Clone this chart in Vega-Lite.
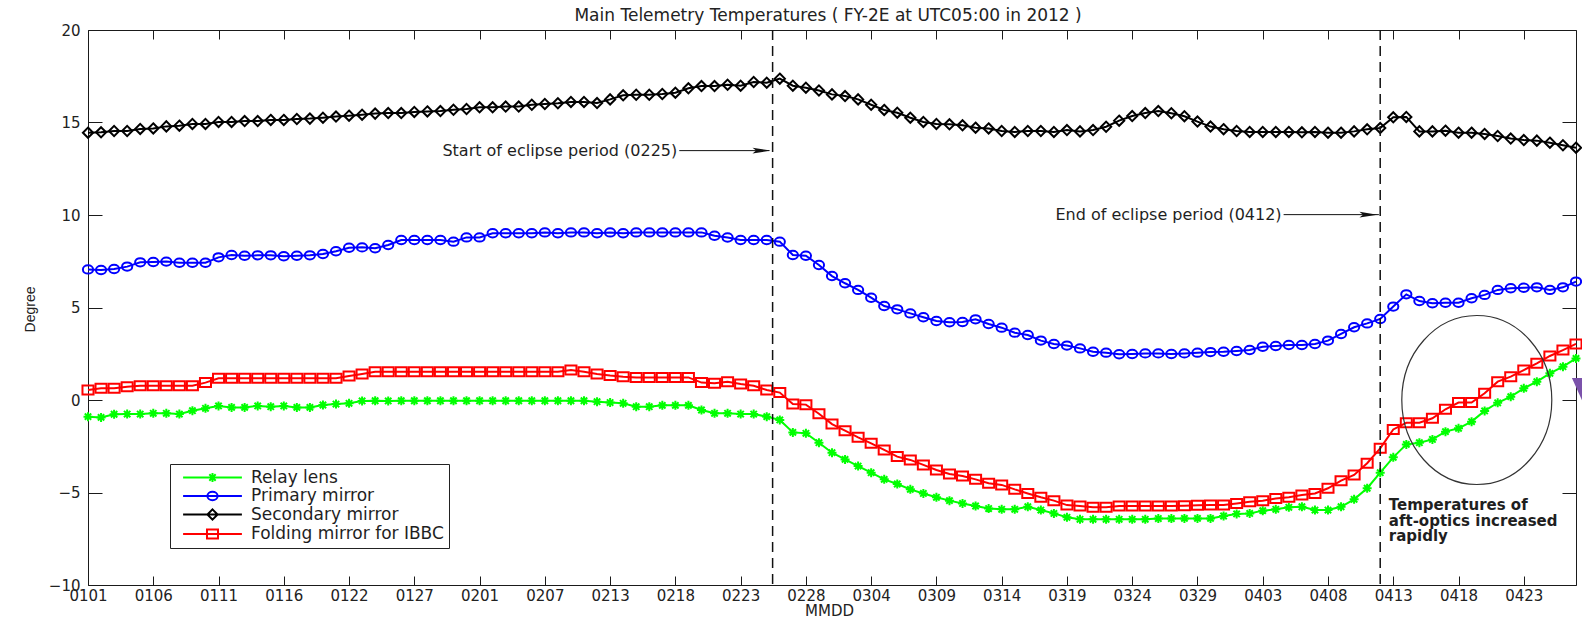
{
  "$schema": "https://vega.github.io/schema/vega-lite/v6.json",
  "width": 1488,
  "height": 555,
  "autosize": {"type": "none"},
  "padding": {"left": 88, "top": 30, "right": 6, "bottom": 34},
  "background": "white",
  "data": {"values": [{}]},
  "config": {
    "view": {"stroke": "#1a1a1a", "strokeWidth": 1},
    "axis": {"labelFont": "DejaVu Sans", "labelFontSize": 15, "labelColor": "#222", "tickColor": "#1a1a1a", "tickWidth": 1, "domain": false, "grid": false, "titleFont": "DejaVu Sans", "titleFontWeight": "normal", "titleColor": "#222", "labelOverlap": false, "labelFlush": false},
    "text": {"font": "DejaVu Sans", "color": "#1f1f1f"}
  },
  "datasets": {
    "temps": [
      {"i":0,"Relay lens":-0.90,"Primary mirror":7.06,"Secondary mirror":14.45,"Folding mirror for IBBC":0.54},
      {"i":1,"Relay lens":-0.94,"Primary mirror":7.03,"Secondary mirror":14.47,"Folding mirror for IBBC":0.63},
      {"i":2,"Relay lens":-0.77,"Primary mirror":7.08,"Secondary mirror":14.54,"Folding mirror for IBBC":0.63},
      {"i":3,"Relay lens":-0.76,"Primary mirror":7.21,"Secondary mirror":14.54,"Folding mirror for IBBC":0.72},
      {"i":4,"Relay lens":-0.76,"Primary mirror":7.44,"Secondary mirror":14.65,"Folding mirror for IBBC":0.77},
      {"i":5,"Relay lens":-0.72,"Primary mirror":7.46,"Secondary mirror":14.68,"Folding mirror for IBBC":0.77},
      {"i":6,"Relay lens":-0.72,"Primary mirror":7.48,"Secondary mirror":14.79,"Folding mirror for IBBC":0.77},
      {"i":7,"Relay lens":-0.76,"Primary mirror":7.42,"Secondary mirror":14.83,"Folding mirror for IBBC":0.77},
      {"i":8,"Relay lens":-0.58,"Primary mirror":7.42,"Secondary mirror":14.92,"Folding mirror for IBBC":0.77},
      {"i":9,"Relay lens":-0.45,"Primary mirror":7.42,"Secondary mirror":14.92,"Folding mirror for IBBC":0.94},
      {"i":10,"Relay lens":-0.32,"Primary mirror":7.71,"Secondary mirror":15.03,"Folding mirror for IBBC":1.17},
      {"i":11,"Relay lens":-0.40,"Primary mirror":7.84,"Secondary mirror":15.03,"Folding mirror for IBBC":1.17},
      {"i":12,"Relay lens":-0.40,"Primary mirror":7.80,"Secondary mirror":15.08,"Folding mirror for IBBC":1.17},
      {"i":13,"Relay lens":-0.32,"Primary mirror":7.82,"Secondary mirror":15.08,"Folding mirror for IBBC":1.17},
      {"i":14,"Relay lens":-0.36,"Primary mirror":7.82,"Secondary mirror":15.14,"Folding mirror for IBBC":1.17},
      {"i":15,"Relay lens":-0.32,"Primary mirror":7.77,"Secondary mirror":15.14,"Folding mirror for IBBC":1.17},
      {"i":16,"Relay lens":-0.40,"Primary mirror":7.80,"Secondary mirror":15.19,"Folding mirror for IBBC":1.17},
      {"i":17,"Relay lens":-0.40,"Primary mirror":7.82,"Secondary mirror":15.21,"Folding mirror for IBBC":1.17},
      {"i":18,"Relay lens":-0.27,"Primary mirror":7.89,"Secondary mirror":15.26,"Folding mirror for IBBC":1.17},
      {"i":19,"Relay lens":-0.22,"Primary mirror":8.04,"Secondary mirror":15.32,"Folding mirror for IBBC":1.17},
      {"i":20,"Relay lens":-0.18,"Primary mirror":8.23,"Secondary mirror":15.37,"Folding mirror for IBBC":1.30},
      {"i":21,"Relay lens":-0.05,"Primary mirror":8.25,"Secondary mirror":15.42,"Folding mirror for IBBC":1.41},
      {"i":22,"Relay lens":-0.04,"Primary mirror":8.20,"Secondary mirror":15.48,"Folding mirror for IBBC":1.53},
      {"i":23,"Relay lens":-0.05,"Primary mirror":8.38,"Secondary mirror":15.51,"Folding mirror for IBBC":1.53},
      {"i":24,"Relay lens":-0.04,"Primary mirror":8.65,"Secondary mirror":15.51,"Folding mirror for IBBC":1.53},
      {"i":25,"Relay lens":-0.04,"Primary mirror":8.65,"Secondary mirror":15.57,"Folding mirror for IBBC":1.53},
      {"i":26,"Relay lens":-0.04,"Primary mirror":8.65,"Secondary mirror":15.60,"Folding mirror for IBBC":1.53},
      {"i":27,"Relay lens":-0.04,"Primary mirror":8.65,"Secondary mirror":15.62,"Folding mirror for IBBC":1.53},
      {"i":28,"Relay lens":-0.04,"Primary mirror":8.56,"Secondary mirror":15.69,"Folding mirror for IBBC":1.53},
      {"i":29,"Relay lens":-0.04,"Primary mirror":8.79,"Secondary mirror":15.73,"Folding mirror for IBBC":1.53},
      {"i":30,"Relay lens":-0.04,"Primary mirror":8.79,"Secondary mirror":15.82,"Folding mirror for IBBC":1.53},
      {"i":31,"Relay lens":-0.04,"Primary mirror":9.01,"Secondary mirror":15.82,"Folding mirror for IBBC":1.53},
      {"i":32,"Relay lens":-0.04,"Primary mirror":9.01,"Secondary mirror":15.86,"Folding mirror for IBBC":1.53},
      {"i":33,"Relay lens":-0.04,"Primary mirror":9.01,"Secondary mirror":15.86,"Folding mirror for IBBC":1.53},
      {"i":34,"Relay lens":-0.04,"Primary mirror":9.01,"Secondary mirror":15.96,"Folding mirror for IBBC":1.53},
      {"i":35,"Relay lens":-0.04,"Primary mirror":9.06,"Secondary mirror":16.00,"Folding mirror for IBBC":1.53},
      {"i":36,"Relay lens":-0.04,"Primary mirror":9.01,"Secondary mirror":16.04,"Folding mirror for IBBC":1.53},
      {"i":37,"Relay lens":-0.04,"Primary mirror":9.06,"Secondary mirror":16.11,"Folding mirror for IBBC":1.62},
      {"i":38,"Relay lens":-0.04,"Primary mirror":9.06,"Secondary mirror":16.11,"Folding mirror for IBBC":1.53},
      {"i":39,"Relay lens":-0.09,"Primary mirror":9.01,"Secondary mirror":16.05,"Folding mirror for IBBC":1.41},
      {"i":40,"Relay lens":-0.14,"Primary mirror":9.06,"Secondary mirror":16.25,"Folding mirror for IBBC":1.32},
      {"i":41,"Relay lens":-0.18,"Primary mirror":9.01,"Secondary mirror":16.47,"Folding mirror for IBBC":1.26},
      {"i":42,"Relay lens":-0.36,"Primary mirror":9.06,"Secondary mirror":16.50,"Folding mirror for IBBC":1.22},
      {"i":43,"Relay lens":-0.36,"Primary mirror":9.06,"Secondary mirror":16.50,"Folding mirror for IBBC":1.22},
      {"i":44,"Relay lens":-0.29,"Primary mirror":9.06,"Secondary mirror":16.54,"Folding mirror for IBBC":1.22},
      {"i":45,"Relay lens":-0.29,"Primary mirror":9.06,"Secondary mirror":16.61,"Folding mirror for IBBC":1.22},
      {"i":46,"Relay lens":-0.29,"Primary mirror":9.06,"Secondary mirror":16.85,"Folding mirror for IBBC":1.22},
      {"i":47,"Relay lens":-0.54,"Primary mirror":9.06,"Secondary mirror":16.97,"Folding mirror for IBBC":0.94},
      {"i":48,"Relay lens":-0.72,"Primary mirror":8.88,"Secondary mirror":16.97,"Folding mirror for IBBC":0.90},
      {"i":49,"Relay lens":-0.72,"Primary mirror":8.78,"Secondary mirror":17.04,"Folding mirror for IBBC":0.99},
      {"i":50,"Relay lens":-0.76,"Primary mirror":8.65,"Secondary mirror":16.99,"Folding mirror for IBBC":0.86},
      {"i":51,"Relay lens":-0.76,"Primary mirror":8.65,"Secondary mirror":17.19,"Folding mirror for IBBC":0.77},
      {"i":52,"Relay lens":-0.90,"Primary mirror":8.65,"Secondary mirror":17.15,"Folding mirror for IBBC":0.54},
      {"i":53,"Relay lens":-1.08,"Primary mirror":8.56,"Secondary mirror":17.37,"Folding mirror for IBBC":0.40},
      {"i":54,"Relay lens":-1.75,"Primary mirror":7.84,"Secondary mirror":16.99,"Folding mirror for IBBC":-0.22},
      {"i":55,"Relay lens":-1.80,"Primary mirror":7.80,"Secondary mirror":16.88,"Folding mirror for IBBC":-0.25},
      {"i":56,"Relay lens":-2.31,"Primary mirror":7.30,"Secondary mirror":16.73,"Folding mirror for IBBC":-0.74},
      {"i":57,"Relay lens":-2.85,"Primary mirror":6.70,"Secondary mirror":16.52,"Folding mirror for IBBC":-1.30},
      {"i":58,"Relay lens":-3.21,"Primary mirror":6.31,"Secondary mirror":16.43,"Folding mirror for IBBC":-1.66},
      {"i":59,"Relay lens":-3.57,"Primary mirror":5.95,"Secondary mirror":16.25,"Folding mirror for IBBC":-2.02},
      {"i":60,"Relay lens":-3.93,"Primary mirror":5.53,"Secondary mirror":15.96,"Folding mirror for IBBC":-2.34},
      {"i":61,"Relay lens":-4.29,"Primary mirror":5.08,"Secondary mirror":15.68,"Folding mirror for IBBC":-2.70},
      {"i":62,"Relay lens":-4.54,"Primary mirror":4.90,"Secondary mirror":15.53,"Folding mirror for IBBC":-3.06},
      {"i":63,"Relay lens":-4.83,"Primary mirror":4.68,"Secondary mirror":15.26,"Folding mirror for IBBC":-3.24},
      {"i":64,"Relay lens":-5.05,"Primary mirror":4.47,"Secondary mirror":15.03,"Folding mirror for IBBC":-3.51},
      {"i":65,"Relay lens":-5.26,"Primary mirror":4.27,"Secondary mirror":14.92,"Folding mirror for IBBC":-3.78},
      {"i":66,"Relay lens":-5.44,"Primary mirror":4.20,"Secondary mirror":14.90,"Folding mirror for IBBC":-4.00},
      {"i":67,"Relay lens":-5.59,"Primary mirror":4.22,"Secondary mirror":14.85,"Folding mirror for IBBC":-4.11},
      {"i":68,"Relay lens":-5.73,"Primary mirror":4.36,"Secondary mirror":14.72,"Folding mirror for IBBC":-4.29},
      {"i":69,"Relay lens":-5.87,"Primary mirror":4.11,"Secondary mirror":14.68,"Folding mirror for IBBC":-4.50},
      {"i":70,"Relay lens":-5.91,"Primary mirror":3.91,"Secondary mirror":14.54,"Folding mirror for IBBC":-4.59},
      {"i":71,"Relay lens":-5.91,"Primary mirror":3.64,"Secondary mirror":14.49,"Folding mirror for IBBC":-4.83},
      {"i":72,"Relay lens":-5.77,"Primary mirror":3.51,"Secondary mirror":14.54,"Folding mirror for IBBC":-5.05},
      {"i":73,"Relay lens":-5.95,"Primary mirror":3.21,"Secondary mirror":14.54,"Folding mirror for IBBC":-5.26},
      {"i":74,"Relay lens":-6.13,"Primary mirror":3.03,"Secondary mirror":14.49,"Folding mirror for IBBC":-5.44},
      {"i":75,"Relay lens":-6.34,"Primary mirror":2.94,"Secondary mirror":14.59,"Folding mirror for IBBC":-5.68},
      {"i":76,"Relay lens":-6.45,"Primary mirror":2.79,"Secondary mirror":14.52,"Folding mirror for IBBC":-5.73},
      {"i":77,"Relay lens":-6.45,"Primary mirror":2.61,"Secondary mirror":14.59,"Folding mirror for IBBC":-5.80},
      {"i":78,"Relay lens":-6.45,"Primary mirror":2.56,"Secondary mirror":14.77,"Folding mirror for IBBC":-5.80},
      {"i":79,"Relay lens":-6.45,"Primary mirror":2.47,"Secondary mirror":15.10,"Folding mirror for IBBC":-5.73},
      {"i":80,"Relay lens":-6.45,"Primary mirror":2.49,"Secondary mirror":15.35,"Folding mirror for IBBC":-5.73},
      {"i":81,"Relay lens":-6.45,"Primary mirror":2.52,"Secondary mirror":15.51,"Folding mirror for IBBC":-5.73},
      {"i":82,"Relay lens":-6.41,"Primary mirror":2.52,"Secondary mirror":15.62,"Folding mirror for IBBC":-5.73},
      {"i":83,"Relay lens":-6.41,"Primary mirror":2.49,"Secondary mirror":15.50,"Folding mirror for IBBC":-5.73},
      {"i":84,"Relay lens":-6.40,"Primary mirror":2.52,"Secondary mirror":15.34,"Folding mirror for IBBC":-5.71},
      {"i":85,"Relay lens":-6.40,"Primary mirror":2.56,"Secondary mirror":15.05,"Folding mirror for IBBC":-5.69},
      {"i":86,"Relay lens":-6.40,"Primary mirror":2.59,"Secondary mirror":14.78,"Folding mirror for IBBC":-5.68},
      {"i":87,"Relay lens":-6.27,"Primary mirror":2.61,"Secondary mirror":14.64,"Folding mirror for IBBC":-5.68},
      {"i":88,"Relay lens":-6.16,"Primary mirror":2.65,"Secondary mirror":14.54,"Folding mirror for IBBC":-5.59},
      {"i":89,"Relay lens":-6.13,"Primary mirror":2.70,"Secondary mirror":14.49,"Folding mirror for IBBC":-5.50},
      {"i":90,"Relay lens":-5.98,"Primary mirror":2.88,"Secondary mirror":14.49,"Folding mirror for IBBC":-5.44},
      {"i":91,"Relay lens":-5.91,"Primary mirror":2.92,"Secondary mirror":14.49,"Folding mirror for IBBC":-5.32},
      {"i":92,"Relay lens":-5.80,"Primary mirror":2.97,"Secondary mirror":14.49,"Folding mirror for IBBC":-5.26},
      {"i":93,"Relay lens":-5.77,"Primary mirror":2.97,"Secondary mirror":14.47,"Folding mirror for IBBC":-5.14},
      {"i":94,"Relay lens":-5.95,"Primary mirror":3.03,"Secondary mirror":14.49,"Folding mirror for IBBC":-5.05},
      {"i":95,"Relay lens":-5.95,"Primary mirror":3.21,"Secondary mirror":14.45,"Folding mirror for IBBC":-4.77},
      {"i":96,"Relay lens":-5.77,"Primary mirror":3.57,"Secondary mirror":14.45,"Folding mirror for IBBC":-4.36},
      {"i":97,"Relay lens":-5.37,"Primary mirror":3.93,"Secondary mirror":14.52,"Folding mirror for IBBC":-4.05},
      {"i":98,"Relay lens":-4.77,"Primary mirror":4.14,"Secondary mirror":14.63,"Folding mirror for IBBC":-3.42},
      {"i":99,"Relay lens":-3.93,"Primary mirror":4.38,"Secondary mirror":14.70,"Folding mirror for IBBC":-2.61},
      {"i":100,"Relay lens":-3.10,"Primary mirror":5.05,"Secondary mirror":15.28,"Folding mirror for IBBC":-1.59},
      {"i":101,"Relay lens":-2.40,"Primary mirror":5.71,"Secondary mirror":15.30,"Folding mirror for IBBC":-1.23},
      {"i":102,"Relay lens":-2.31,"Primary mirror":5.35,"Secondary mirror":14.52,"Folding mirror for IBBC":-1.23},
      {"i":103,"Relay lens":-2.13,"Primary mirror":5.23,"Secondary mirror":14.52,"Folding mirror for IBBC":-0.99},
      {"i":104,"Relay lens":-1.71,"Primary mirror":5.26,"Secondary mirror":14.56,"Folding mirror for IBBC":-0.50},
      {"i":105,"Relay lens":-1.53,"Primary mirror":5.26,"Secondary mirror":14.45,"Folding mirror for IBBC":-0.14},
      {"i":106,"Relay lens":-1.17,"Primary mirror":5.50,"Secondary mirror":14.45,"Folding mirror for IBBC":-0.14},
      {"i":107,"Relay lens":-0.59,"Primary mirror":5.68,"Secondary mirror":14.38,"Folding mirror for IBBC":0.36},
      {"i":108,"Relay lens":-0.15,"Primary mirror":5.95,"Secondary mirror":14.27,"Folding mirror for IBBC":0.99},
      {"i":109,"Relay lens":0.18,"Primary mirror":6.04,"Secondary mirror":14.13,"Folding mirror for IBBC":1.26},
      {"i":110,"Relay lens":0.63,"Primary mirror":6.07,"Secondary mirror":14.05,"Folding mirror for IBBC":1.62},
      {"i":111,"Relay lens":0.99,"Primary mirror":6.09,"Secondary mirror":14.02,"Folding mirror for IBBC":1.98},
      {"i":112,"Relay lens":1.44,"Primary mirror":5.95,"Secondary mirror":13.91,"Folding mirror for IBBC":2.38},
      {"i":113,"Relay lens":1.80,"Primary mirror":6.09,"Secondary mirror":13.77,"Folding mirror for IBBC":2.70},
      {"i":114,"Relay lens":2.25,"Primary mirror":6.40,"Secondary mirror":13.64,"Folding mirror for IBBC":3.03}
    ]
  },
  "layer": [
    {
      "data": {"name": "temps"},
      "transform": [{"fold": ["Relay lens", "Primary mirror", "Secondary mirror", "Folding mirror for IBBC"], "as": ["series", "temp"]}],
      "mark": {"type": "line", "strokeWidth": 2},
      "encoding": {
        "x": {"field": "i", "type": "quantitative", "scale": {"domain": [0, 114], "nice": false, "zero": false},
              "axis": {"orient": "bottom", "values": [0,5,10,15,20,25,30,35,40,45,50,55,60,65,70,75,80,85,90,95,100,105,110],
                       "labelExpr": "['0101','0106','0111','0116','0122','0127','0201','0207','0213','0218','0223','0228','0304','0309','0314','0319','0324','0329','0403','0408','0413','0418','0423'][round(datum.value/5)]",
                       "tickSize": -9, "labelPadding": 19, "labelBaseline": "middle", "title": "MMDD", "titleFontSize": 15, "titleX": 741, "titleY": 25.5, "titleAlign": "center", "titleBaseline": "middle"}},
        "y": {"field": "temp", "type": "quantitative", "scale": {"domain": [-10, 20], "nice": false, "zero": false},
              "axis": {"orient": "left", "values": [-10,-5,0,5,10,15,20], "tickSize": -14, "labelPadding": 22, "title": "Degree", "titleFont": "Liberation Sans Narrow, Liberation Sans", "titleFontSize": 14, "titleAngle": -90, "titleX": -58, "titleY": 279, "titleAlign": "center", "titleBaseline": "middle"}},
        "color": {"field": "series", "type": "nominal", "scale": {"domain": ["Relay lens", "Primary mirror", "Secondary mirror", "Folding mirror for IBBC"], "range": ["#00ff00", "#0000ff", "#000000", "#ff0000"]}, "legend": null},
        "detail": {"field": "series"},
        "order": {"field": "i", "type": "quantitative"}
      }
    },
    {
      "data": {"name": "temps"},
      "transform": [{"fold": ["Relay lens", "Primary mirror", "Secondary mirror", "Folding mirror for IBBC"], "as": ["series", "temp"]}],
      "mark": {"type": "point", "filled": false, "strokeWidth": 2, "size": 144, "opacity": 1},
      "encoding": {
        "x": {"field": "i", "type": "quantitative", "scale": {"domain": [0, 114], "nice": false, "zero": false},
              "axis": {"orient": "top", "values": [0,5,10,15,20,25,30,35,40,45,50,55,60,65,70,75,80,85,90,95,100,105,110], "labels": false, "tickSize": -9, "title": null}},
        "y": {"field": "temp", "type": "quantitative", "scale": {"domain": [-10, 20], "nice": false, "zero": false},
              "axis": {"orient": "right", "values": [-10,-5,0,5,10,15,20], "labels": false, "tickSize": -14, "title": null}},
        "color": {"field": "series", "type": "nominal", "scale": {"domain": ["Relay lens", "Primary mirror", "Secondary mirror", "Folding mirror for IBBC"], "range": ["#00ff00", "#0000ff", "#000000", "#ff0000"]}, "legend": null},
        "shape": {"field": "series", "type": "nominal", "scale": {"domain": ["Relay lens", "Primary mirror", "Secondary mirror", "Folding mirror for IBBC"], "range": ["M-0.75,0L0.75,0M0,-0.75L0,0.75M-0.53,-0.53L0.53,0.53M-0.53,0.53L0.53,-0.53", "M-0.85,0A0.85,0.7,0,1,0,0.85,0A0.85,0.7,0,1,0,-0.85,0Z", "M0,-0.85L0.85,0L0,0.85L-0.85,0Z", "M-0.92,-0.75L0.92,-0.75L0.92,0.75L-0.92,0.75Z"]}, "legend": null}
      }
    },
    {
      "data": {"name": "temps"},
      "transform": [{"fold": ["Relay lens", "Primary mirror", "Secondary mirror", "Folding mirror for IBBC"], "as": ["series", "temp"]}, {"filter": "datum.i < 0"}],
      "mark": {"type": "point", "filled": false, "strokeWidth": 2, "size": 144, "opacity": 1},
      "encoding": {
        "x": {"field": "i", "type": "quantitative", "axis": null},
        "y": {"field": "temp", "type": "quantitative", "axis": null},
        "color": {"field": "series", "type": "nominal", "scale": {"domain": ["Relay lens", "Primary mirror", "Secondary mirror", "Folding mirror for IBBC"], "range": ["#00ff00", "#0000ff", "#000000", "#ff0000"]},
                  "legend": {"orient": "none", "legendX": 82, "legendY": 434, "title": null, "padding": 5, "rowPadding": 0.5, "symbolSize": 144, "symbolStrokeWidth": 2, "symbolOffset": 29, "labelOffset": 30, "labelFont": "DejaVu Sans", "labelFontSize": 17, "labelColor": "#1f1f1f", "labelLimit": 400, "strokeColor": "#222", "fillColor": "white", "cornerRadius": 0}},
        "shape": {"field": "series", "type": "nominal", "scale": {"domain": ["Relay lens", "Primary mirror", "Secondary mirror", "Folding mirror for IBBC"], "range": ["M-4.9,0L4.9,0M-0.75,0L0.75,0M0,-0.75L0,0.75M-0.53,-0.53L0.53,0.53M-0.53,0.53L0.53,-0.53", "M-4.9,0L4.9,0M-0.85,0A0.85,0.7,0,1,0,0.85,0A0.85,0.7,0,1,0,-0.85,0Z", "M-4.9,0L4.9,0M0,-0.85L0.85,0L0,0.85L-0.85,0Z", "M-4.9,0L4.9,0M-0.92,-0.75L0.92,-0.75L0.92,0.75L-0.92,0.75Z"]},
                  "legend": {"orient": "none", "legendX": 82, "legendY": 434, "title": null, "padding": 5, "rowPadding": 0.5, "symbolSize": 144, "symbolStrokeWidth": 2, "symbolOffset": 29, "labelOffset": 30, "labelFont": "DejaVu Sans", "labelFontSize": 17, "labelColor": "#1f1f1f", "labelLimit": 400, "strokeColor": "#222", "fillColor": "white", "cornerRadius": 0}}
      }
    },
    {
      "mark": {"type": "text", "text": "Main Telemetry Temperatures ( FY-2E at UTC05:00 in 2012 )", "align": "center", "baseline": "alphabetic", "fontSize": 17, "color": "#222"},
      "encoding": {"x": {"datum": 56.7, "type": "quantitative", "axis": null}, "y": {"datum": 20.51, "type": "quantitative", "axis": null}}
    },
    {
      "mark": {"type": "rule", "strokeDash": [10, 6], "strokeWidth": 1.5, "color": "#111"},
      "encoding": {"x": {"datum": 52.45, "type": "quantitative", "axis": null}}
    },
    {
      "mark": {"type": "rule", "strokeDash": [10, 6], "strokeWidth": 1.5, "color": "#111"},
      "encoding": {"x": {"datum": 99, "type": "quantitative", "axis": null}}
    },
    {
      "mark": {"type": "rule", "strokeWidth": 1, "color": "#111"},
      "encoding": {"x": {"datum": 45.3, "type": "quantitative", "axis": null}, "x2": {"datum": 52.2}, "y": {"datum": 13.48, "type": "quantitative", "axis": null}}
    },
    {
      "mark": {"type": "rule", "strokeWidth": 1, "color": "#111"},
      "encoding": {"x": {"datum": 91.6, "type": "quantitative", "axis": null}, "x2": {"datum": 98.9}, "y": {"datum": 10.02, "type": "quantitative", "axis": null}}
    },
    {
      "mark": {"type": "point", "shape": "M1,0L-1,-0.33L-0.6,0L-1,0.33Z", "size": 324, "filled": true, "color": "#111", "opacity": 1},
      "encoding": {"x": {"datum": 51.6, "type": "quantitative", "axis": null}, "y": {"datum": 13.48, "type": "quantitative", "axis": null}}
    },
    {
      "mark": {"type": "point", "shape": "M1,0L-1,-0.33L-0.6,0L-1,0.33Z", "size": 324, "filled": true, "color": "#111", "opacity": 1},
      "encoding": {"x": {"datum": 98.1, "type": "quantitative", "axis": null}, "y": {"datum": 10.02, "type": "quantitative", "axis": null}}
    },
    {
      "mark": {"type": "text", "text": "Start of eclipse period (0225)", "align": "right", "baseline": "middle", "fontSize": 16, "dx": -2},
      "encoding": {"x": {"datum": 45.3, "type": "quantitative", "axis": null}, "y": {"datum": 13.48, "type": "quantitative", "axis": null}}
    },
    {
      "mark": {"type": "text", "text": "End of eclipse period (0412)", "align": "right", "baseline": "middle", "fontSize": 16, "dx": -2},
      "encoding": {"x": {"datum": 91.6, "type": "quantitative", "axis": null}, "y": {"datum": 10.02, "type": "quantitative", "axis": null}}
    },
    {
      "mark": {"type": "point", "shape": "M-0.8876,0A0.8876,1,0,1,0,0.8876,0A0.8876,1,0,1,0,-0.8876,0Z", "size": 28561, "filled": false, "strokeWidth": 1.2, "color": "#333", "opacity": 1},
      "encoding": {"x": {"datum": 106.4, "type": "quantitative", "axis": null}, "y": {"datum": 0, "type": "quantitative", "axis": null}}
    },
    {
      "mark": {"type": "text", "text": ["Temperatures of", "aft-optics increased", "rapidly"], "align": "left", "baseline": "top", "fontSize": 15, "fontWeight": "bold", "lineHeight": 15.5},
      "encoding": {"x": {"datum": 99.66, "type": "quantitative", "axis": null}, "y": {"datum": -5.32, "type": "quantitative", "axis": null}}
    },
    {
      "mark": {"type": "point", "shape": "M-0.83,-1L1,-1L1,1L0.08,1Z", "size": 576, "filled": true, "color": "#7b52ab", "opacity": 1},
      "encoding": {"x": {"datum": 114.45, "type": "quantitative", "axis": null}, "y": {"datum": 0.54, "type": "quantitative", "axis": null}}
    }
  ],
  "resolve": {"axis": {"x": "independent", "y": "independent"}, "scale": {"shape": "independent"}, "legend": {"color": "independent", "shape": "independent"}}
}
